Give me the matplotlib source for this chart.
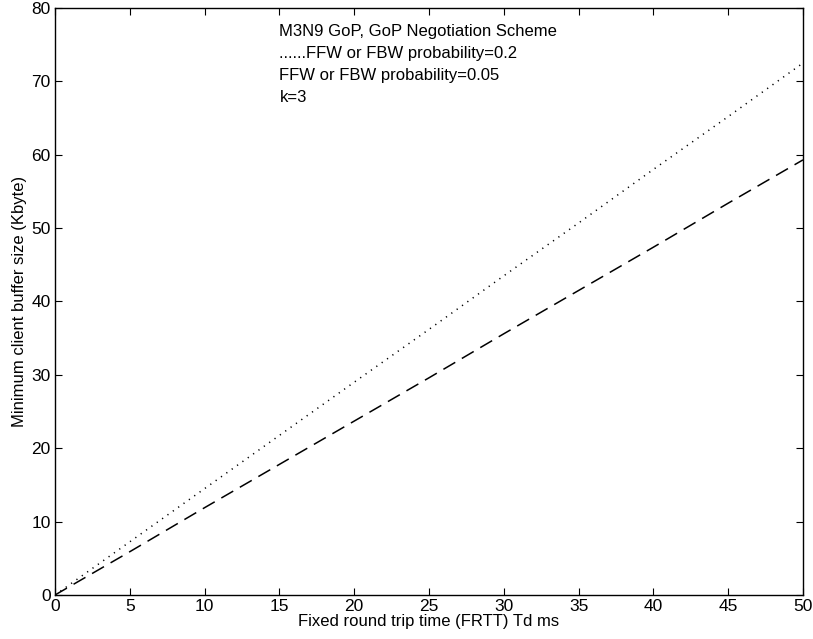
"""
Minimum client buffer size vs fixed round trip time, GoP negotiation scheme
"""
import matplotlib
matplotlib.use('Agg')
import matplotlib.pyplot as plt

plt.rcParams['font.family'] = ['Liberation Sans', 'DejaVu Sans']

frtt = [0, 5, 10, 15, 20, 25, 30, 35, 40, 45, 50]
buf_p02 = [0, 7.25, 14.5, 21.75, 29.0, 36.2, 43.5, 50.7, 58.0, 65.2, 72.5]
buf_p005 = [0, 5.9, 11.9, 17.8, 23.7, 29.6, 35.6, 41.5, 47.4, 53.4, 59.3]

notes = ['M3N9 GoP, GoP Negotiation Scheme',
         '......FFW or FBW probability=0.2',
         'FFW or FBW probability=0.05',
         'k=3']

fig = plt.figure(figsize=(8.13, 6.39), dpi=100)
ax = fig.add_axes([0.0677, 0.0689, 0.92, 0.9186])

ax.plot(frtt, buf_p02, color='black', linestyle=(0, (0.8, 3.5)), linewidth=1.1)
ax.plot(frtt, buf_p005, color='black', linestyle=(0, (9, 5)), linewidth=1.1)

ax.set_xlim(0, 50)
ax.set_ylim(0, 80)
ax.set_xticks(range(0, 51, 5))
ax.set_yticks(range(0, 81, 10))
ax.tick_params(direction='in', top=True, right=True, labelsize=12.5, length=5, pad=3)
for s in ax.spines.values():
    s.set_linewidth(1.0)

ax.set_xlabel('Fixed round trip time (FRTT) Td ms', fontsize=12, labelpad=0)
ax.set_ylabel('Minimum client buffer size (Kbyte)', fontsize=12, labelpad=3)

for i, t in enumerate(notes):
    ax.text(15, 76.8 - 3.0 * i, t, fontsize=12, va='center', ha='left')

fig.savefig('out.png', dpi=100)
